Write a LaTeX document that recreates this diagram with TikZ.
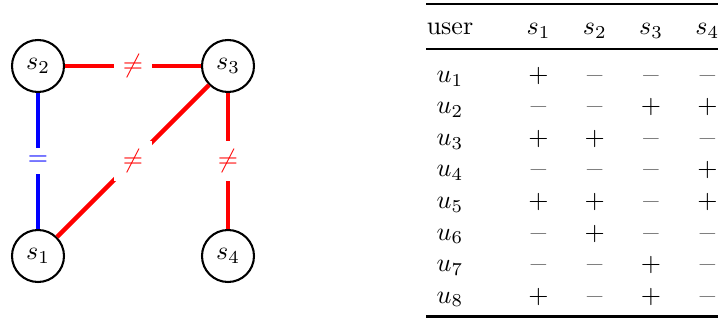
\documentclass[tikz,border=0pt]{standalone}
\newcommand\cpl{$+$}
\newcommand\cmi{\textcolor{gray}{$-$}}
\begin{document}
\begin{tikzpicture}[x=0.3846pt,y=-0.3846pt,
  vtx/.style={circle,draw,thick,minimum size=20pt,inner sep=0pt},
  edgeline/.style={line width=1.7pt},
  lbl/.style={fill=white,midway,inner sep=3.33pt},
  cell/.style={anchor=base,inner sep=0pt},
  heavyrule/.style={line width=0.8pt},
  lightrule/.style={line width=0.5pt}]
\useasboundingbox (0,0) rectangle (718,320);
% graph
\node[vtx] (s2) at (38,66) {$s_2$};
\node[vtx] (s3) at (228,66) {$s_3$};
\node[vtx] (s1) at (38,256) {$s_1$};
\node[vtx] (s4) at (228,256) {$s_4$};
\draw[edgeline,blue] (s2) -- node[lbl,text=blue] {$=$} (s1);
\draw[edgeline,red] (s2) -- node[lbl,text=red] {$\neq$} (s3);
\draw[edgeline,red] (s3) -- node[lbl,text=red] {$\neq$} (s1);
\draw[edgeline,red] (s3) -- node[lbl,text=red] {$\neq$} (s4);
% table rules
\coordinate (tl) at (426,4);   \coordinate (tr) at (730,4);
\coordinate (ml) at (426,49);  \coordinate (mr) at (730,49);
\coordinate (bl) at (426,316.5); \coordinate (br) at (730,316.5);
\draw[heavyrule] (tl) -- (tr);
\draw[lightrule] (ml) -- (mr);
\draw[heavyrule] (bl) -- (br);
% header
\node[cell] (h-0) at (450,35) {user};
\foreach \j in {1,...,4}
  \node[cell] (h-\j) at ({538.5+56.3*(\j-1)},35) {$s_{\j}$};
% rows
\foreach \i/\a/\b/\c/\d in {
  1/\cpl/\cmi/\cmi/\cmi,
  2/\cmi/\cmi/\cpl/\cpl,
  3/\cpl/\cpl/\cmi/\cmi,
  4/\cmi/\cmi/\cmi/\cpl,
  5/\cpl/\cpl/\cmi/\cpl,
  6/\cmi/\cpl/\cmi/\cmi,
  7/\cmi/\cmi/\cpl/\cmi,
  8/\cpl/\cmi/\cpl/\cmi}{
  \node[cell] (u-\i) at (450,{82.5+31.5*(\i-1)}) {$u_{\i}$};
  \foreach \v [count=\j] in {\a,\b,\c,\d}
    \node[cell] (c-\i-\j) at ({538.5+56.3*(\j-1)},{82.5+31.5*(\i-1)}) {\v};
}
\end{tikzpicture}
\end{document}
